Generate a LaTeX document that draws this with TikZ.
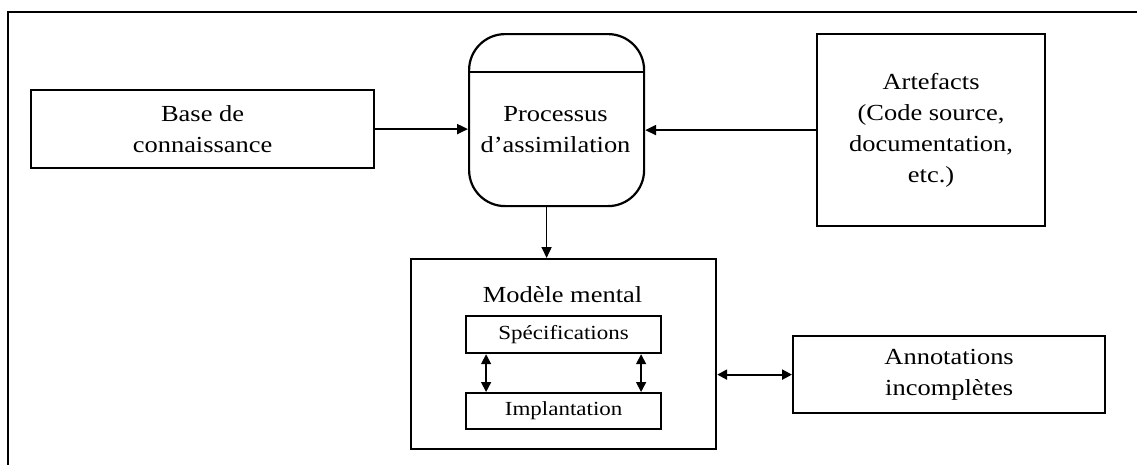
\documentclass[tikz,border=0pt]{standalone}
\usepackage{fontspec}
\setmainfont{Liberation Serif}[FakeStretch=1.15]
\usetikzlibrary{arrows.meta}
\begin{document}
\begin{tikzpicture}[x=1pt,y=-1pt, line width=2.2pt,
  box/.style={draw, rectangle, inner sep=0pt},
  arr/.style={-{Triangle[length=11pt,width=10pt]}},
  darr/.style={{Triangle[length=10pt,width=10pt]}-{Triangle[length=10pt,width=10pt]}},
  lab/.style={align=center, font=\fontsize{23}{31}\selectfont},
  slab/.style={align=center, font=\fontsize{20}{24}\selectfont}]
\useasboundingbox (0,0) rectangle (1137,464);
\draw[line width=2.6pt] (1150,12) -- (8,12) -- (8,480);
% boxes
\node[box, lab, minimum width=343pt, minimum height=78pt, anchor=north west] (base) at (30,89) {Base de\\connaissance};
\node[draw, rounded corners=36pt, minimum width=175pt, minimum height=172pt, anchor=north west, inner sep=0pt] (proc) at (468,33) {};
\draw (proc.west |- 0,72) -- (proc.east |- 0,72);
\node[lab] (proct) at (555.5,130) {Processus\\d’assimilation};
\node[box, lab, minimum width=228pt, minimum height=192pt, anchor=north west] (art) at (816,33) {Artefacts\\(Code source,\\documentation,\\etc.)};
\node[box, minimum width=305pt, minimum height=190pt, anchor=north west] (model) at (410,258) {};
\node[lab] (modt) at (562.5,295) {Modèle mental};
\node[box, slab, minimum width=195pt, minimum height=37pt, anchor=north west] (spec) at (465,315) {Spécifications};
\node[box, slab, minimum width=195pt, minimum height=36pt, anchor=north west] (impl) at (465,392) {Implantation};
\node[box, lab, minimum width=312pt, minimum height=77pt, anchor=north west] (ann) at (792,335) {Annotations\\incomplètes};
% connectors
\draw[arr] (base.east) -- (base.east -| proc.west);
\draw[arr] (art.west) -- (art.west -| proc.east);
\draw[arr, line width=1.6pt] ([xshift=-10pt]proc.south) -- ([xshift=-10pt]proc.south |- model.north);
\draw[darr, line width=1.6pt] ([xshift=-77.5pt]spec.south) -- ([xshift=-77.5pt]impl.north);
\draw[darr, line width=1.6pt] ([xshift=77.5pt]spec.south) -- ([xshift=77.5pt]impl.north);
\draw[darr] (model.east |- ann.west) -- (ann.west);
\end{tikzpicture}
\end{document}
